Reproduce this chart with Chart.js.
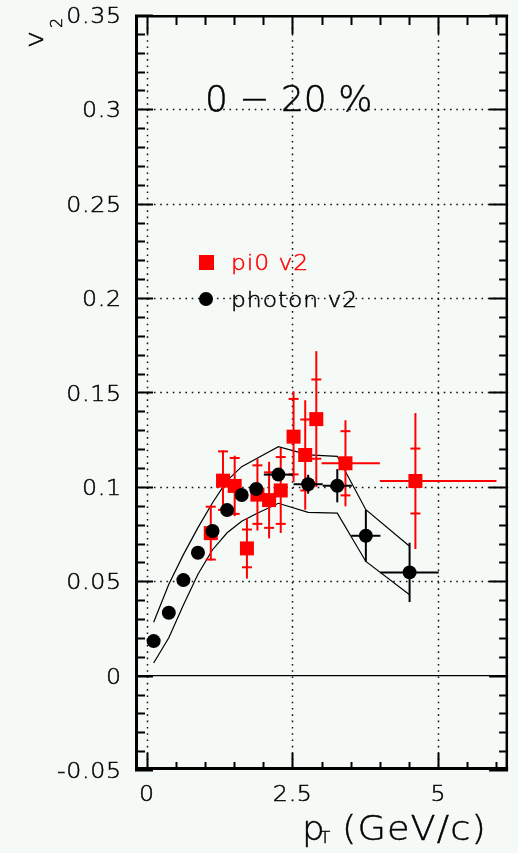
<!DOCTYPE html>
<html>
<head>
<meta charset="utf-8">
<script src="https://cdn.jsdelivr.net/npm/chart.js@4.4.1/dist/chart.umd.min.js"></script>
<style>
  html, body { margin: 0; padding: 0; background: #f5faf7; }
  canvas { display: block; }
</style>
</head>
<body>
<canvas id="c" width="518" height="853"></canvas>
<script>
// ---- photon v2 (0-20% centrality) ----
const photonPt      = [0.12, 0.38, 0.63, 0.88, 1.13, 1.38, 1.63, 1.88, 2.26, 2.77, 3.27, 3.76, 4.51];
const photonV2      = [0.0183, 0.0333, 0.0506, 0.0651, 0.0766, 0.0877, 0.0957, 0.0989, 0.1065, 0.1014, 0.1006, 0.0741, 0.0547];
const photonStat    = [0, 0, 0, 0, 0, 0, 0, 0, 0.0025, 0.0050, 0.0088, 0.0137, 0.0157];
const photonBinHalf = [0, 0, 0, 0, 0, 0, 0, 0, 0.25, 0.25, 0.25, 0.25, 0.50];
// systematic band edges
const photonSysUp   = [0.0283, 0.0484, 0.0641, 0.0784, 0.0916, 0.1033, 0.1107, 0.1149, 0.1213, 0.1170, 0.1162, 0.0879, 0.0685];
const photonSysDn   = [0.0067, 0.0201, 0.0374, 0.0537, 0.0667, 0.0757, 0.0818, 0.0858, 0.0913, 0.0865, 0.0861, 0.0605, 0.0429];

// ---- pi0 v2 ----
const pi0Pt    = [1.10, 1.31, 1.51, 1.72, 1.90, 2.10, 2.30, 2.52, 2.72, 2.91, 3.41, 4.61];
const pi0V2    = [0.0755, 0.1033, 0.1005, 0.0674, 0.0959, 0.0930, 0.0981, 0.1266, 0.1169, 0.1359, 0.1125, 0.1031];
const pi0Stat  = [0.0140, 0.0155, 0.0148, 0.0100, 0.0155, 0.0147, 0.0177, 0.0200, 0.0188, 0.0210, 0.0170, 0.0172];
const pi0Tot   = [0.0145, 0.0160, 0.0160, 0.0160, 0.0190, 0.0203, 0.0225, 0.0240, 0.0290, 0.0360, 0.0228, 0.0360];
const pi0BinLo = [null, null, null, null, null, null, null, null, null, null, 3.0, 4.0];
const pi0BinHi = [null, null, null, null, null, null, null, null, null, null, 4.0, 6.0];

// ---- axes ----
const xTicks      = [0, 2.5, 5];
const xTickLabels = ['0', '2.5', '5'];
const yTicks      = [-0.05, 0, 0.05, 0.1, 0.15, 0.2, 0.25, 0.3, 0.35];
const yTickLabels = ['-0.05', '0', '0.05', '0.1', '0.15', '0.2', '0.25', '0.3', '0.35'];
const seriesNames = ['pi0 v2', 'photon v2'];
const centralityLabel = '0 \u2212 20 %';

const FAM = '"DejaVu Sans", "Liberation Sans", sans-serif';
const RED = '#ff0000';
const BLACK = '#000000';

// text drawn with a slight horizontal stretch and extra tracking
function spacedText(ctx, s, x, y, size, spacing, align, color, hscale) {
  const h = hscale || 1;
  ctx.save();
  ctx.font = `200 ${size}px ${FAM}`;
  ctx.fillStyle = color || BLACK;
  ctx.strokeStyle = color || BLACK;
  ctx.lineWidth = 0.45;
  ctx.textAlign = 'left';
  ctx.textBaseline = 'alphabetic';
  const ws = [...s].map(ch => ctx.measureText(ch).width);
  const total = (ws.reduce((a, b) => a + b, 0) + spacing * (ws.length - 1)) * h;
  let x0 = x;
  if (align === 'right') x0 = x - total;
  else if (align === 'center') x0 = x - total / 2;
  ctx.translate(x0, y);
  ctx.scale(h, 1);
  let cx = 0;
  [...s].forEach((ch, i) => { ctx.fillText(ch, cx, 0); ctx.strokeText(ch, cx, 0); cx += ws[i] + spacing; });
  ctx.restore();
}

function line(ctx, x1, y1, x2, y2) {
  ctx.beginPath(); ctx.moveTo(x1, y1); ctx.lineTo(x2, y2); ctx.stroke();
}

const decor = {
  id: 'decor',
  beforeDatasetsDraw(chart) {
    const { ctx, chartArea: a, scales: { x, y } } = chart;
    ctx.save();
    // dotted grid on major ticks
    ctx.strokeStyle = '#111';
    ctx.lineWidth = 1.5;
    ctx.setLineDash([1.6, 4.7]);
    xTicks.forEach(v => { const px = Math.round(x.getPixelForValue(v)) + 0.5; line(ctx, px, a.top, px, a.bottom); });
    yTicks.forEach(v => {
      if (v <= y.min + 1e-9 || v >= y.max - 1e-9 || Math.abs(v) < 1e-9) return;
      const py = Math.round(y.getPixelForValue(v)) + 0.5; line(ctx, a.left, py, a.right, py);
    });
    ctx.setLineDash([]);
    // zero line
    ctx.strokeStyle = BLACK;
    ctx.lineWidth = 1.2;
    const p0 = y.getPixelForValue(0);
    line(ctx, a.left, p0, a.right, p0);
    ctx.restore();
  },
  beforeDatasetDraw(chart, args) {
    const { ctx, scales: { x, y } } = chart;
    const ds = chart.data.datasets[args.index];
    ctx.save();
    if (ds.label === seriesNames[0]) {
      ctx.strokeStyle = RED;
      ctx.lineWidth = 2;
      pi0Pt.forEach((pt, i) => {
        const px = x.getPixelForValue(pt);
        const py = y.getPixelForValue(pi0V2[i]);
        line(ctx, px, y.getPixelForValue(pi0V2[i] + pi0Tot[i]), px, y.getPixelForValue(pi0V2[i] - pi0Tot[i]));
        [pi0V2[i] + pi0Stat[i], pi0V2[i] - pi0Stat[i]].forEach(v => {
          const cy = y.getPixelForValue(v); line(ctx, px - 5, cy, px + 5, cy);
        });
        if (pi0BinLo[i] !== null) line(ctx, x.getPixelForValue(pi0BinLo[i]), py, x.getPixelForValue(pi0BinHi[i]), py);
      });
    } else if (ds.label === seriesNames[1]) {
      ctx.strokeStyle = BLACK;
      ctx.lineWidth = 2;
      photonPt.forEach((pt, i) => {
        const px = x.getPixelForValue(pt);
        const py = y.getPixelForValue(photonV2[i]);
        if (photonStat[i] > 0) line(ctx, px, y.getPixelForValue(photonV2[i] + photonStat[i]), px, y.getPixelForValue(photonV2[i] - photonStat[i]));
        if (photonBinHalf[i] > 0) line(ctx, x.getPixelForValue(pt - photonBinHalf[i]), py, x.getPixelForValue(pt + photonBinHalf[i]), py);
      });
    }
    ctx.restore();
  },
  afterDatasetsDraw(chart) {
    const { ctx, chartArea: a, scales: { x, y } } = chart;
    ctx.save();
    ctx.strokeStyle = BLACK;
    // minor / major tick marks on all four sides
    ctx.lineWidth = 2;
    for (let k = Math.ceil(y.min * 100 - 1e-6); k <= Math.floor(y.max * 100 + 1e-6); k++) {
      const v = k / 100;
      const major = k % 5 === 0;
      const py = Math.round(y.getPixelForValue(v)) + 0.5;
      line(ctx, a.left, py, a.left + (major ? 18 : 10), py);
      line(ctx, a.right - (major ? 19 : 9), py, a.right, py);
    }
    for (let k = Math.ceil(x.min * 2 - 1e-6); k <= Math.floor(x.max * 2 + 1e-6); k++) {
      const v = k / 2;
      const major = k % 5 === 0;
      const px = Math.round(x.getPixelForValue(v)) + 0.5;
      line(ctx, px, a.bottom, px, a.bottom - (major ? 17 : 8));
      line(ctx, px, a.top, px, a.top + (major ? 19 : 10));
    }
    // frame
    ctx.lineWidth = 3;
    line(ctx, a.left + 1.5, a.top, a.left + 1.5, a.bottom);
    line(ctx, a.left, a.bottom - 1.5, a.right, a.bottom - 1.5);
    ctx.lineWidth = 2.5;
    line(ctx, a.left, a.top + 1.3, a.right, a.top + 1.3);
    line(ctx, a.right - 1.3, a.top, a.right - 1.3, a.bottom);
    ctx.restore();

    // tick labels
    yTicks.forEach((v, i) => spacedText(ctx, yTickLabels[i], 121, y.getPixelForValue(v) + 8, 21, 0.6, 'right', BLACK, 1.13));
    xTicks.forEach((v, i) => spacedText(ctx, xTickLabels[i], x.getPixelForValue(v), 801, 21, 0.6, 'center', BLACK, 1.13));

    // axis titles
    spacedText(ctx, 'p', 302, 840, 34, 0, 'left', BLACK, 1.05);
    spacedText(ctx, 'T', 320, 843, 16, 0, 'left', BLACK, 1.05);
    spacedText(ctx, '(GeV/c)', 342, 840, 34, 1, 'left', BLACK, 1.08);
    ctx.save();
    ctx.font = `200 25px ${FAM}`; ctx.fillStyle = BLACK; ctx.strokeStyle = BLACK; ctx.lineWidth = 0.45;
    ctx.textBaseline = 'alphabetic';
    ctx.translate(43, 48); ctx.rotate(-Math.PI / 2); ctx.scale(1.15, 1);
    ctx.fillText('v', 0, 0); ctx.strokeText('v', 0, 0);
    ctx.restore();
    ctx.save();
    ctx.font = `200 16px ${FAM}`; ctx.fillStyle = BLACK; ctx.strokeStyle = BLACK; ctx.lineWidth = 0.45;
    ctx.textBaseline = 'alphabetic';
    ctx.translate(62, 28); ctx.rotate(-Math.PI / 2);
    ctx.fillText('2', 0, 0); ctx.strokeText('2', 0, 0);
    ctx.restore();

    // centrality label
    spacedText(ctx, centralityLabel, 205, 111, 36, 0, 'left', BLACK, 1);

    // legend
    ctx.save();
    ctx.fillStyle = RED;
    ctx.fillRect(199, 255, 15, 15);
    ctx.fillStyle = BLACK;
    ctx.beginPath(); ctx.arc(206, 299, 7, 0, Math.PI * 2); ctx.fill();
    ctx.restore();
    spacedText(ctx, seriesNames[0], 231, 270, 21, 0.8, 'left', RED, 1.12);
    spacedText(ctx, seriesNames[1], 231, 307, 21, 0.8, 'left', BLACK, 1.12);
  }
};

new Chart(document.getElementById('c'), {
  type: 'scatter',
  data: {
    datasets: [
      {
        label: seriesNames[1],
        data: photonPt.map((p, i) => ({ x: p, y: photonV2[i] })),
        pointStyle: 'circle', pointRadius: 7, pointHoverRadius: 7,
        backgroundColor: BLACK, borderColor: BLACK, borderWidth: 0,
        order: 1
      },
      {
        label: seriesNames[0],
        data: pi0Pt.map((p, i) => ({ x: p, y: pi0V2[i] })),
        pointStyle: 'rect', pointRadius: 9.9, pointHoverRadius: 9.9,
        backgroundColor: RED, borderColor: RED, borderWidth: 0,
        order: 2
      },
      {
        label: 'sys-up',
        data: photonPt.map((p, i) => ({ x: p, y: photonSysUp[i] })),
        showLine: true, pointRadius: 0, borderColor: BLACK, borderWidth: 1.2,
        order: 3
      },
      {
        label: 'sys-down',
        data: photonPt.map((p, i) => ({ x: p, y: photonSysDn[i] })),
        showLine: true, pointRadius: 0, borderColor: BLACK, borderWidth: 1.2,
        order: 3
      }
    ]
  },
  options: {
    responsive: false,
    animation: false,
    events: [],
    layout: { padding: { top: 15, right: 6, left: 0, bottom: 0 } },
    plugins: { legend: { display: false }, tooltip: { enabled: false }, title: { display: false } },
    scales: {
      x: {
        type: 'linear', min: -0.2, max: 6.2,
        grid: { display: false, drawTicks: false }, border: { display: false },
        ticks: { display: false },
        afterFit(s) { s.height = 83; }
      },
      y: {
        type: 'linear', min: -0.05, max: 0.35,
        grid: { display: false, drawTicks: false }, border: { display: false },
        ticks: { display: false },
        afterFit(s) { s.width = 135; }
      }
    }
  },
  plugins: [decor]
});
</script>
</body>
</html>
